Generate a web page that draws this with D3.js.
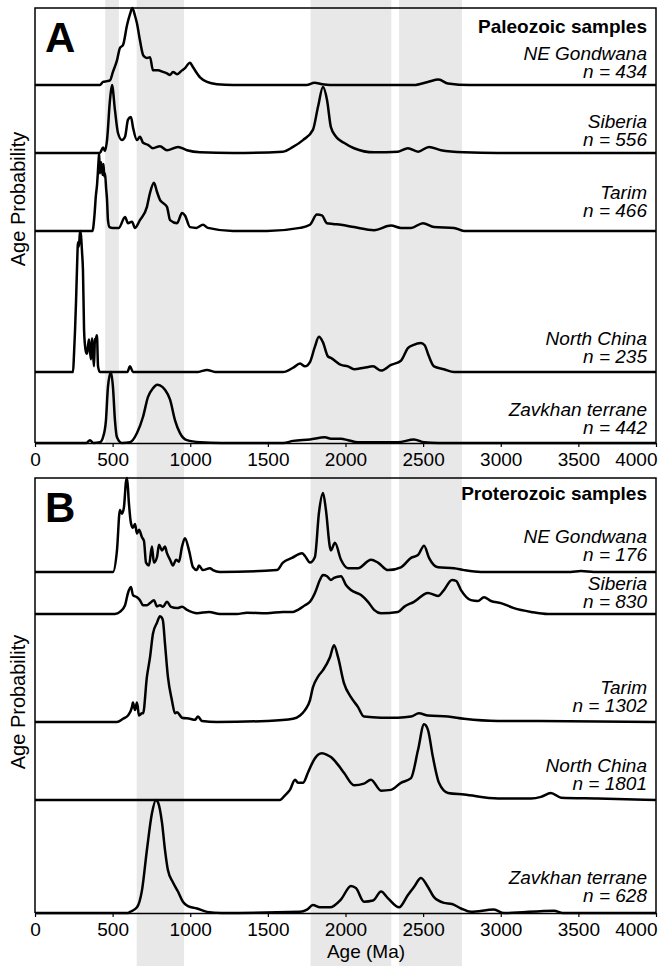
<!DOCTYPE html>
<html>
<head>
<meta charset="utf-8">
<script src="https://cdn.jsdelivr.net/npm/d3@7"></script>
<style>
body { margin: 0; background: #fff; }
text { font-family: "Liberation Sans", Arial, sans-serif; fill: #000; }
</style>
</head>
<body>
<script>
// age (Ma), relative probability (0-100 of row height)
var paleoNEG = [[0,0],[418,0],[438,4],[464,5],[483,6],[502,17],[528,32],[547,48],[567,52],[593,78],[612,92],[627,100],[644,90],[657,80],[676,58],[696,39],[710,36],[721,35],[741,36],[760,19],[792,19],[824,17],[850,15],[870,13],[889,17],[915,14],[947,19],[966,22],[998,29],[1018,23],[1063,10],[1108,4],[1172,1],[1275,0],[1750,0],[1800,3],[1850,1],[1900,0],[2440,0],[2530,4],[2600,7],[2660,2],[2800,0],[4000,0]];
var paleoSib = [[0,0],[418,0],[438,8],[451,3],[464,19],[483,78],[496,100],[515,63],[535,29],[560,19],[580,24],[599,49],[618,53],[631,38],[657,19],[676,24],[696,15],[728,12],[760,7],[805,10],[850,4],[921,9],[979,4],[1063,1],[1275,0],[1597,2],[1662,9],[1726,19],[1790,34],[1823,68],[1855,97],[1881,78],[1906,38],[1939,24],[1990,15],[2055,7],[2184,1],[2338,2],[2402,7],[2467,2],[2538,9],[2615,4],[2763,1],[2982,0],[4000,0]];
var paleoTar = [[0,0],[370,0],[383,20],[392,45],[400,60],[408,85],[413,100],[418,74],[425,88],[431,80],[436,72],[441,86],[446,70],[451,74],[458,55],[464,40],[470,14],[480,5],[500,4],[540,4],[580,18],[599,10],[625,12],[644,4],[676,14],[721,31],[741,49],[766,62],[786,50],[805,40],[824,36],[850,31],[870,14],[915,10],[947,23],[966,20],[998,5],[1040,4],[1082,8],[1114,4],[1275,0],[1494,0],[1707,4],[1771,8],[1816,21],[1848,20],[1880,10],[1920,9],[1971,8],[2055,5],[2184,1],[2293,7],[2357,4],[2422,4],[2499,10],[2570,5],[2699,4],[2763,0],[4000,0]];
var paleoNC = [[0,0],[245,0],[251,12],[258,30],[264,49],[271,75],[277,92],[283,89],[290,100],[296,97],[303,85],[309,72],[316,30],[322,19],[329,14],[335,13],[341,18],[348,23],[354,15],[361,9],[367,24],[373,15],[380,4],[386,23],[393,24],[399,26],[406,4],[418,0],[595,0],[612,4],[631,0],[1050,0],[1108,1.5],[1160,0],[1597,0],[1662,3],[1707,6],[1739,4],[1771,7],[1803,18],[1829,25],[1855,21],[1887,11],[1906,10],[1971,5],[2016,4],[2055,2],[2119,3],[2177,4],[2229,1],[2293,5],[2357,8],[2402,17],[2435,19],[2486,20.5],[2510,19],[2531,13],[2570,4],[2634,2],[2699,0],[4000,0]];
var paleoZav = [[0,0],[330,0],[354,4],[375,0],[418,1],[438,8],[457,32],[470,79],[489,100],[502,79],[515,32],[528,8],[560,0],[612,1],[657,14],[696,37],[728,65],[760,77],[786,82],[805,81],[837,75],[870,61],[902,32],[934,14],[979,4],[1063,1],[1200,0],[1600,0],[1662,3],[1771,5],[1868,8],[1906,6],[1971,6],[2016,4],[2080,1],[2338,1],[2441,5],[2506,1],[2600,0],[4000,0]];

var proNEG = [[0,0],[502,0],[528,23],[547,66],[560,62],[573,69],[586,96],[593,100],[605,73],[618,52],[631,47],[644,51],[657,41],[670,45],[689,37],[702,33],[715,10],[734,7],[753,27],[766,10],[786,16],[799,29],[818,23],[837,27],[850,20],[870,13],[889,7],[908,13],[927,11],[947,27],[966,36],[992,23],[1018,5],[1043,2],[1056,7],[1082,2],[1127,4],[1146,2],[1191,0],[1558,2],[1597,10],[1655,15],[1720,20],[1739,17],[1771,10],[1803,16],[1829,63],[1855,84],[1874,66],[1900,26],[1906,23],[1932,31],[1971,13],[2016,4],[2080,4],[2164,13],[2209,10],[2274,2],[2357,5],[2422,15],[2467,18],[2506,28],[2538,15],[2596,5],[2699,4],[2763,2],[2872,0],[3450,0],[3517,1],[3600,0],[4000,0]];
var proSib = [[0,0],[515,0],[547,5],[580,21],[599,50],[618,64],[631,45],[657,40],[676,33],[696,21],[721,21],[741,26],[766,33],[786,18],[805,21],[824,17],[850,29],[876,17],[915,14],[947,17],[979,10],[1043,2],[1121,5],[1191,0],[1300,0],[1365,3],[1494,2],[1597,5],[1662,5],[1694,10],[1739,21],[1771,29],[1803,50],[1835,81],[1855,93],[1881,90],[1906,81],[1926,86],[1971,90],[2003,69],[2035,57],[2100,45],[2145,29],[2184,10],[2229,2],[2338,5],[2377,17],[2441,29],[2531,50],[2596,43],[2634,57],[2686,81],[2712,79],[2744,57],[2808,33],[2853,31],[2892,40],[2937,31],[3001,26],[3085,14],[3195,5],[3304,0],[4000,0]];
var proTar = [[0,0],[528,0],[567,3],[599,6],[625,14],[631,18],[644,11],[657,18],[670,6],[689,8],[696,8],[721,42],[741,60],[760,82],[786,92],[805,98],[815,97],[824,94],[837,73],[856,42],[882,20],[902,8],[915,9],[947,4],[998,3],[1030,2],[1050,5],[1075,1],[1172,0],[1494,1],[1662,3],[1707,6],[1739,11],[1771,20],[1790,32],[1823,42],[1855,48],[1900,60],[1926,71],[1952,60],[1990,36],[2035,23],[2080,14],[2119,5],[2229,4],[2338,4],[2422,5],[2473,8],[2531,6],[2660,5],[2763,3],[2982,1],[3195,1],[4000,0]];
var proNC = [[0,0],[1578,0],[1610,6],[1642,13],[1675,26],[1694,22],[1726,22],[1758,35],[1790,49],[1823,58],[1848,60],[1881,58],[1906,55],[1952,45],[1990,35],[2055,19],[2119,21],[2164,26],[2229,12],[2293,13],[2357,22],[2422,28],[2467,64],[2506,97],[2531,90],[2563,55],[2602,22],[2660,9],[2763,7],[2982,2],[3195,2],[3259,4],[3323,9],[3388,3],[3626,2],[4000,0]];
var proZav = [[0,0],[600,0],[612,1],[657,5],[689,20],[721,56],[753,88],[779,100],[792,98],[818,80],[837,56],[856,38],[889,27],[921,19],[953,10],[985,6],[1043,4],[1108,1],[1200,0],[1707,1],[1752,3],[1790,7],[1835,5],[1900,5],[1971,12],[2035,24],[2068,22],[2119,10],[2177,11],[2229,19],[2274,13],[2345,5],[2402,16],[2441,23],[2486,31],[2531,23],[2570,14],[2634,9],[2686,8],[2744,4],[2808,1],[2956,3],[3020,0],[3343,2],[3400,0],[4000,0]];

var sampleNames = ["NE Gondwana", "Siberia", "Tarim", "North China", "Zavkhan terrane"];
var paleoCounts = [434, 556, 466, 235, 442];
var proCounts = [176, 830, 1302, 1801, 628];
var bandsAll = [[655, 960], [1775, 2295], [2345, 2750]];
var bandsPaleo = [[452, 540]];
var ageTicks = [0, 500, 1000, 1500, 2000, 2500, 3000, 3500, 4000];

var svgWidth = 662, svgHeight = 966,
    plotLeft = 35, plotRight = 656,
    labelX = 647;

var panels = [
    { top: 8, baselines: [85, 153, 231, 372, 443], series: [paleoNEG, paleoSib, paleoTar, paleoNC, paleoZav],
      counts: paleoCounts, title: "Paleozoic samples", letter: "A", titleY: 33, letterY: 52,
      labelY: [60, 128, 199, 345, 416], yTitleMid: 199 },
    { top: 478, baselines: [572, 614, 722, 800, 913], series: [proNEG, proSib, proTar, proNC, proZav],
      counts: proCounts, title: "Proterozoic samples", letter: "B", titleY: 500, letterY: 522,
      labelY: [543, 590, 694, 772, 884], yTitleMid: 702 }
];

var x = d3.scaleLinear().domain([0, 4000]).range([plotLeft, plotRight]);

var svg = d3.select("body").append("svg")
    .attr("width", svgWidth)
    .attr("height", svgHeight);

// grey age bands behind everything
svg.selectAll("rect.band").data(bandsAll).enter().append("rect")
    .attr("class", "band")
    .attr("x", d => x(d[0]))
    .attr("width", d => x(d[1]) - x(d[0]))
    .attr("y", 0)
    .attr("height", svgHeight)
    .style("fill", "#e8e8e8");

svg.selectAll("rect.bandA").data(bandsPaleo).enter().append("rect")
    .attr("class", "bandA")
    .attr("x", d => x(d[0]))
    .attr("width", d => x(d[1]) - x(d[0]))
    .attr("y", 0)
    .attr("height", panels[0].baselines[4])
    .style("fill", "#e8e8e8");

panels.forEach(function(p) {
    var bottom = p.baselines[p.baselines.length - 1];

    p.series.forEach(function(s, i) {
        var y = d3.scaleLinear().domain([0, 100])
            .range([p.baselines[i], i === 0 ? p.top : p.baselines[i - 1]]);
        var line = d3.line()
            .x(d => x(d[0]))
            .y(d => y(d[1]))
            .curve(d3.curveMonotoneX);
        svg.append("path")
            .datum(s)
            .attr("d", line)
            .style("fill", "none")
            .style("stroke", "#000")
            .style("stroke-width", 2.5)
            .style("stroke-linejoin", "round");

        // sample name + count as one two-line label
        var label = svg.append("text")
            .attr("text-anchor", "end")
            .style("font-size", "19px").style("font-style", "italic");
        label.append("tspan")
            .attr("x", labelX).attr("y", p.labelY[i])
            .text(sampleNames[i]);
        label.append("tspan")
            .attr("x", labelX).attr("y", p.labelY[i] + 17.5)
            .text("n = " + p.counts[i]);
    });

    // frame: left, top, right
    svg.append("path")
        .attr("d", "M" + plotLeft + "," + bottom + "V" + p.top + "H" + plotRight + "V" + bottom)
        .style("fill", "none")
        .style("stroke", "#000")
        .style("stroke-width", 1.5);

    var axis = svg.append("g")
        .attr("transform", "translate(0," + bottom + ")")
        .call(d3.axisBottom(x).tickValues(ageTicks).tickFormat(d3.format("d"))
            .tickSize(4).tickSizeOuter(0).tickPadding(6));
    axis.select(".domain").style("stroke-width", 1.5);
    axis.selectAll(".tick line").style("stroke-width", 1.2);
    axis.selectAll("text").style("font-size", "19px")
        .style("font-family", "'Liberation Sans', Arial, sans-serif");
    // last label sits inside the frame edge
    axis.selectAll(".tick text").filter(d => d === 4000)
        .attr("text-anchor", "end").attr("x", 1);

    svg.append("text")
        .attr("x", labelX).attr("y", p.titleY)
        .attr("text-anchor", "end")
        .style("font-size", "19px").style("font-weight", "bold")
        .text(p.title);

    svg.append("text")
        .attr("x", 45).attr("y", p.letterY)
        .style("font-size", "42px").style("font-weight", "bold")
        .text(p.letter);

    svg.append("text")
        .attr("transform", "translate(25," + p.yTitleMid + ") rotate(-90)")
        .attr("text-anchor", "middle")
        .style("font-size", "20px")
        .text("Age Probability");
});

svg.append("text")
    .attr("x", 366).attr("y", 958)
    .attr("text-anchor", "middle")
    .style("font-size", "19px")
    .text("Age (Ma)");
</script>
</body>
</html>
